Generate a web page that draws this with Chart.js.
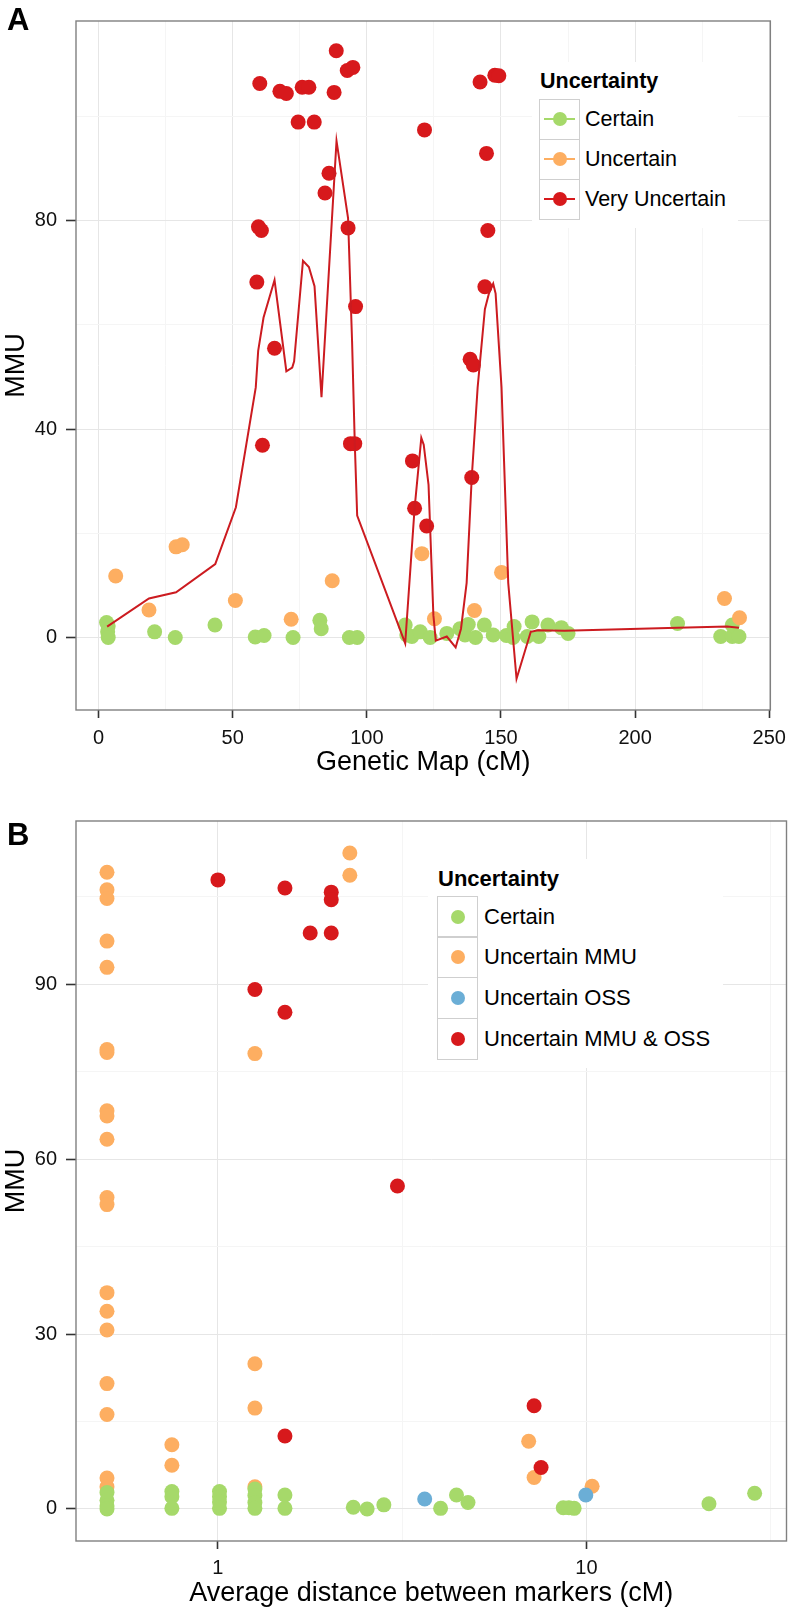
<!DOCTYPE html>
<html>
<head>
<meta charset="utf-8">
<script src="https://cdn.jsdelivr.net/npm/chart.js@4.4.1/dist/chart.umd.min.js"></script>
<style>
  html, body { margin: 0; padding: 0; background: #fff; }
  body { width: 794px; height: 1616px; position: relative; overflow: hidden; font-family: 'Liberation Sans', Arial, sans-serif; color: #000; }
  canvas { position: absolute; left: 0; }
  .tag { position: absolute; font-weight: bold; font-size: 31px; line-height: 31px; }
  .legend { position: absolute; background: #fff; }
  .legend div { position: absolute; white-space: nowrap; }
  .legend .key { box-sizing: border-box; border: 1.5px solid #cfcfcf; }
  .legend .dot { border-radius: 50%; }
</style>
</head>
<body>
<canvas id="chartA" width="794" height="800" style="top:0"></canvas>
<canvas id="chartB" width="794" height="816" style="top:800px"></canvas>
<div class="tag" style="left:7px; top:4px">A</div>
<div class="tag" style="left:7px; top:819px">B</div>
<script>
const COLORS = ['#A6D96A', '#FDAE61', '#6BAED6', '#D7191C'];

// Panel A
const aSeries = ['Certain', 'Uncertain', 'Very Uncertain'];
const aCertainX = [3.0, 3.6, 3.4, 3.6, 20.9, 28.6, 43.4, 58.4, 61.7, 72.5, 82.5, 83.0, 93.5, 96.4, 114.3, 114.9, 116.8, 119.9, 123.6, 129.8, 134.7, 136.6, 137.8, 140.5, 143.8, 147.1, 152.0, 154.5, 154.9, 159.8, 161.6, 164.1, 167.5, 172.5, 175.0, 215.8, 231.9, 236.2, 236.2, 238.7];
const aCertainY = [2.9, 2.2, 1.1, 0.0, 1.1, 0.0, 2.4, 0.1, 0.4, 0.0, 3.3, 1.7, 0.0, 0.0, 2.4, 0.5, 0.2, 1.1, 0.0, 0.8, 1.7, 0.5, 2.5, 0.0, 2.4, 0.5, 0.4, 0.0, 2.1, 0.2, 3.0, 0.2, 2.4, 1.9, 0.8, 2.7, 0.2, 0.2, 2.4, 0.2];
const aUncertainX = [6.4, 18.8, 28.9, 31.2, 51.0, 71.8, 87.1, 120.5, 125.2, 140.1, 150.2, 233.3, 238.9];
const aUncertainY = [11.8, 5.3, 17.4, 17.8, 7.1, 3.5, 10.9, 16.1, 3.6, 5.2, 12.5, 7.5, 3.8];
const aVeryX = [59.0, 59.6, 60.1, 60.7, 61.1, 65.6, 67.6, 70.0, 74.4, 75.9, 78.4, 80.4, 84.4, 85.9, 87.8, 88.6, 92.7, 93.0, 93.9, 94.8, 95.5, 95.8, 117.0, 117.8, 121.5, 122.3, 138.5, 139.1, 139.7, 142.2, 144.0, 144.6, 145.1, 147.7, 149.2];
const aVeryY = [68.2, 78.8, 106.3, 78.1, 36.9, 55.5, 104.8, 104.4, 98.9, 105.6, 105.6, 98.9, 85.3, 89.1, 104.6, 112.6, 108.8, 78.6, 37.2, 109.4, 37.2, 63.5, 33.9, 24.8, 97.4, 21.4, 53.4, 30.7, 52.3, 106.6, 67.3, 92.9, 78.1, 107.9, 107.8];
const aFitX = [3.2, 18.8, 28.9, 43.5, 51.2, 58.6, 59.5, 61.5, 65.6, 70.0, 72.2, 72.9, 76.2, 78.4, 80.5, 83.1, 88.7, 93.0, 94.5, 95.5, 96.4, 114.3, 117.8, 120.3, 121.2, 123.0, 124.8, 125.7, 129.8, 133.1, 135.1, 137.2, 139.1, 141.3, 144.0, 145.5, 147.1, 148.0, 150.2, 152.7, 155.8, 161.1, 163.8, 173.7, 215.8, 234.3, 238.7];
const aFitY = [2.1, 7.5, 8.7, 14.1, 25.0, 48.0, 55.0, 61.4, 68.6, 51.1, 51.8, 53.0, 72.3, 71.1, 67.4, 46.1, 95.3, 80.5, 56.8, 37.4, 23.4, -1.1, 24.8, 38.3, 37.0, 29.3, 4.3, -0.6, 0.2, -1.9, 1.7, 10.5, 30.7, 48.0, 63.0, 66.0, 67.9, 66.0, 48.0, 10.5, -7.9, 1.1, 1.4, 1.3, 1.9, 2.1, 1.9];
const aXTicks = [0, 50, 100, 150, 200, 250];
const aXMinor = [25, 75, 125, 175, 225];
const aYTicks = [0, 40, 80];
const aYMinor = [20, 60, 100];

// Panel B
const bSeries = ['Certain', 'Uncertain MMU', 'Uncertain OSS', 'Uncertain MMU & OSS'];
const bCertainX = [0.5, 0.5, 0.5, 0.5, 0.75, 0.75, 0.75, 1.01, 1.01, 1.01, 1.01, 1.26, 1.26, 1.26, 1.26, 1.52, 1.52, 2.33, 2.54, 2.82, 4.02, 4.44, 4.77, 8.65, 8.96, 9.26, 21.5, 28.6];
const bCertainY = [2.8, 1.5, 0.5, 0.0, 3.0, 2.1, 0.1, 3.0, 2.1, 1.2, 0.1, 3.4, 2.3, 1.1, 0.1, 2.4, 0.1, 0.3, 0.0, 0.7, 0.1, 2.4, 1.1, 0.2, 0.2, 0.1, 0.9, 2.7];
const bMmuX = [0.5, 0.5, 0.5, 0.5, 0.5, 0.5, 0.5, 0.5, 0.5, 0.5, 0.5, 0.5, 0.5, 0.5, 0.5, 0.5, 0.5, 0.5, 0.5, 0.75, 0.75, 1.26, 1.26, 1.26, 1.26, 2.28, 2.28, 6.97, 7.21, 10.36];
const bMmuY = [109.2, 106.2, 104.7, 97.4, 92.9, 78.8, 78.3, 68.3, 67.4, 63.4, 53.4, 52.2, 37.1, 33.9, 30.7, 21.5, 16.2, 5.3, 3.8, 11.0, 7.5, 78.1, 24.9, 17.3, 3.8, 112.5, 108.7, 11.6, 5.4, 3.9];
const bOssX = [3.64, 9.96];
const bOssY = [1.7, 2.4];
const bBothX = [1.0, 1.26, 1.52, 1.52, 1.52, 1.78, 2.03, 2.03, 2.03, 3.07, 7.21, 7.53];
const bBothY = [107.9, 89.1, 106.5, 85.2, 12.5, 98.8, 105.8, 104.5, 98.8, 55.4, 17.7, 7.1];
const bXTicks = [1, 10];
const bXMinor = [3.1623, 31.623];
const bYTicks = [0, 30, 60, 90];
const bYMinor = [15, 45, 75, 105];

Chart.defaults.font.family = "'Liberation Sans', Arial, sans-serif";
Chart.defaults.color = '#111';

const pts = (xs, ys) => xs.map((x, i) => ({ x, y: ys[i] }));

function dots(label, xs, ys, color, order) {
    return {
        label, data: pts(xs, ys), order,
        pointRadius: 7.5, pointHoverRadius: 7.5,
        pointBackgroundColor: color, pointBorderColor: color, pointBorderWidth: 0,
    };
}

function axis(o) {
    const all = [...o.major, ...o.minor].sort((a, b) => a - b);
    const isMajor = (v) => o.major.some((m) => Math.abs(m - v) < 1e-6);
    const left = o.position === 'left';
    return {
        type: o.type || 'linear', position: o.position, min: o.min, max: o.max, bounds: 'data',
        afterBuildTicks: (s) => { s.ticks = all.map((v) => ({ value: v })); },
        afterFit: (s) => { if (left) s.width = o.size; else s.height = o.size; },
        grid: {
            color: (c) => (c.tick && isMajor(c.tick.value) ? '#E6E6E6' : '#F5F5F5'),
            lineWidth: 1,
            tickColor: (c) => (c.tick && isMajor(c.tick.value) ? '#333' : 'rgba(0,0,0,0)'),
            tickLength: o.tickLength, tickWidth: 1.6,
        },
        border: { display: false },
        ticks: {
            autoSkip: false, maxRotation: 0, minRotation: 0, padding: o.labelPad,
            color: '#111', font: { size: 20 },
            callback: (v) => (isMajor(v) ? String(v) : ''),
        },
        title: {
            display: true, text: o.title, color: '#000', font: { size: 27 },
            padding: left ? { top: o.titlePad, bottom: 0 } : { top: 0, bottom: o.titlePad },
        },
    };
}

const frame = {
    id: 'frame',
    afterDraw(chart) {
        const { ctx, chartArea: a } = chart;
        ctx.save();
        ctx.strokeStyle = '#808080';
        ctx.lineWidth = 1.4;
        ctx.strokeRect(a.left, a.top, a.right - a.left, a.bottom - a.top);
        ctx.restore();
    },
};

const common = {
    responsive: false, animation: false, events: [],
    plugins: { legend: { display: false }, tooltip: { enabled: false } },
};

new Chart(document.getElementById('chartA'), {
    type: 'scatter',
    data: {
        datasets: [
            { label: 'fit', data: pts(aFitX, aFitY), showLine: true, borderColor: '#CC1B20', borderWidth: 2, pointRadius: 0, tension: 0, order: 0 },
            dots(aSeries[2], aVeryX, aVeryY, COLORS[3], 1),
            dots(aSeries[1], aUncertainX, aUncertainY, COLORS[1], 2),
            dots(aSeries[0], aCertainX, aCertainY, COLORS[0], 3),
        ],
    },
    options: {
        ...common,
        layout: { padding: { left: 0, top: 5, right: 21, bottom: 0 } },
        scales: {
            x: axis({ position: 'bottom', min: -8.4, max: 250.4, major: aXTicks, minor: aXMinor, size: 90, tickLength: 8, labelPad: 8, title: 'Genetic Map (cM)', titlePad: 21 }),
            y: axis({ position: 'left', min: -13.9, max: 118.3, major: aYTicks, minor: aYMinor, size: 76, tickLength: 10, labelPad: 9, title: 'MMU', titlePad: 0 }),
        },
    },
    plugins: [frame],
});

new Chart(document.getElementById('chartB'), {
    type: 'scatter',
    data: {
        datasets: [
            dots(bSeries[3], bBothX, bBothY, COLORS[3], 0),
            dots(bSeries[0], bCertainX, bCertainY, COLORS[0], 1),
            dots(bSeries[2], bOssX, bOssY, COLORS[2], 2),
            dots(bSeries[1], bMmuX, bMmuY, COLORS[1], 3),
        ],
    },
    options: {
        ...common,
        layout: { padding: { left: 0, top: 19, right: 5, bottom: 0 } },
        scales: {
            x: axis({ type: 'logarithmic', position: 'bottom', min: 0.412, max: 34.9, major: bXTicks, minor: bXMinor, size: 75, tickLength: 8, labelPad: 7, title: 'Average distance between markers (cM)', titlePad: 6 }),
            y: axis({ position: 'left', min: -5.5, max: 118.0, major: bYTicks, minor: bYMinor, size: 76, tickLength: 10, labelPad: 9, title: 'MMU', titlePad: 0 }),
        },
    },
    plugins: [frame],
});

function buildLegend(cfg) {
    const box = document.createElement('div');
    box.className = 'legend';
    Object.assign(box.style, { left: cfg.left + 'px', top: cfg.top + 'px', width: cfg.width + 'px', height: cfg.height + 'px' });
    const title = document.createElement('div');
    title.textContent = 'Uncertainty';
    Object.assign(title.style, { left: cfg.titleX + 'px', top: cfg.titleY + 'px', fontSize: cfg.font + 'px', lineHeight: cfg.font + 'px', fontWeight: 'bold' });
    box.appendChild(title);
    cfg.labels.forEach((label, i) => {
        const top = cfg.keyY + i * cfg.rowH;
        const key = document.createElement('div');
        key.className = 'key';
        Object.assign(key.style, { left: cfg.keyX + 'px', top: top + 'px', width: '41px', height: (cfg.rowH + 1.5) + 'px' });
        box.appendChild(key);
        const cx = cfg.keyX + 20.5;
        const cy = top + cfg.rowH / 2 + 0.7;
        if (cfg.line) {
            const line = document.createElement('div');
            Object.assign(line.style, { left: (cx - 15.5) + 'px', top: (cy - 1) + 'px', width: '31px', height: '2px', background: cfg.colors[i] });
            box.appendChild(line);
        }
        const dot = document.createElement('div');
        dot.className = 'dot';
        Object.assign(dot.style, { left: (cx - 7) + 'px', top: (cy - 7) + 'px', width: '14px', height: '14px', background: cfg.colors[i] });
        box.appendChild(dot);
        const text = document.createElement('div');
        text.textContent = label;
        Object.assign(text.style, { left: cfg.textX + 'px', top: (top + 1) + 'px', fontSize: cfg.font + 'px', lineHeight: cfg.rowH + 'px' });
        box.appendChild(text);
    });
    document.body.appendChild(box);
}

buildLegend({
    left: 532, top: 62, width: 206, height: 166, font: 21.5,
    titleX: 8, titleY: 9, keyX: 7.3, keyY: 36.7, rowH: 39.9, textX: 53,
    labels: aSeries, colors: [COLORS[0], COLORS[1], COLORS[3]], line: true,
});

buildLegend({
    left: 428, top: 859, width: 295, height: 209, font: 22,
    titleX: 10, titleY: 9.4, keyX: 9.3, keyY: 36.7, rowH: 40.65, textX: 56,
    labels: bSeries, colors: COLORS, line: false,
});
</script>
</body>
</html>
